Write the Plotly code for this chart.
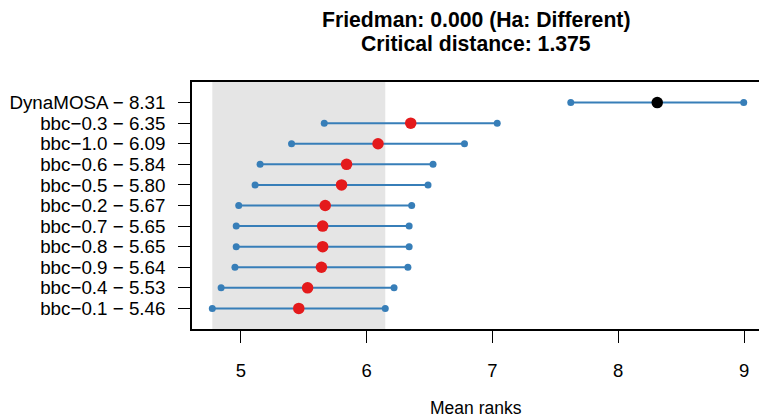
import plotly.graph_objects as go

names = ["DynaMOSA", "bbc\u22120.3", "bbc\u22121.0", "bbc\u22120.6", "bbc\u22120.5", "bbc\u22120.2",
         "bbc\u22120.7", "bbc\u22120.8", "bbc\u22120.9", "bbc\u22120.4", "bbc\u22120.1"]
mean_ranks = [8.31, 6.35, 6.09, 5.84, 5.80, 5.67, 5.65, 5.65, 5.64, 5.53, 5.46]
critical_distance = 1.375
friedman_p = 0.000
x_ticks = [5, 6, 7, 8, 9]

BLUE = "#377EB8"
RED = "#E41A1C"
FONT = "Liberation Sans, Arial, sans-serif"

n = len(names)
rows = [n - i for i in range(n)]  # top row is highest
half = critical_distance / 2

fig = go.Figure()

# shaded region: interval of the best (lowest mean rank) method
best_mean = min(mean_ranks)
fig.add_shape(type="rect", xref="x", yref="paper", x0=best_mean - half, x1=best_mean + half,
              y0=0, y1=1, fillcolor="#E5E5E5", line=dict(width=0), layer="below")

for name, m, r in zip(names, mean_ranks, rows):
    fig.add_trace(go.Scatter(x=[m - half, m + half], y=[r, r], mode="lines+markers",
                             line=dict(color=BLUE, width=2),
                             marker=dict(color=BLUE, size=7), hoverinfo="skip", showlegend=False))
top = max(mean_ranks)
for name, m, r in zip(names, mean_ranks, rows):
    col = "black" if m == top else RED
    fig.add_trace(go.Scatter(x=[m], y=[r], mode="markers",
                             marker=dict(color=col, size=11.5), showlegend=False))

ticktext = [f"{nm} \u2212 {m:.2f}" for nm, m in zip(names, mean_ranks)]

fig.update_layout(
    width=759, height=417,
    margin=dict(l=192, r=0, t=82, b=88),
    plot_bgcolor="white", paper_bgcolor="white",
    font=dict(family=FONT, color="black"),
    xaxis=dict(range=[4.611, 9.119], tickvals=x_ticks, ticks="outside", ticklen=12,
               tickwidth=1, tickcolor="black", showgrid=False, zeroline=False,
               showline=True, linecolor="black", linewidth=1.5, mirror=True,
               tickfont=dict(size=18.5), ticklabelstandoff=12, automargin=False),
    yaxis=dict(range=[0, n + 1], tickvals=rows, ticktext=ticktext, ticks="outside",
               ticklen=12, tickwidth=1, tickcolor="black", showgrid=False, zeroline=False,
               showline=True, linecolor="black", linewidth=1.5, automargin=False,
               tickfont=dict(size=18.8), ticklabelstandoff=9),
    annotations=[
        dict(text=f"<b>Friedman: {friedman_p:.3f} (Ha: Different)</b>", xref="paper", yref="paper",
             x=0.5, y=(329 - 19.5) / 247, showarrow=False, font=dict(size=21.2),
             xanchor="center", yanchor="middle", borderpad=0),
        dict(text=f"<b>Critical distance: {critical_distance:.3f}</b>", xref="paper", yref="paper",
             x=0.5, y=(329 - 43.5) / 247, showarrow=False, font=dict(size=21.2),
             xanchor="center", yanchor="middle", borderpad=0),
        dict(text="Mean ranks", xref="paper", yref="paper", x=0.5, y=(329 - 407.5) / 247,
             showarrow=False, font=dict(size=17.5), xanchor="center", yanchor="middle"),
    ],
)

fig.write_html("out.html", config={"displayModeBar": False},
               post_script="document.body.style.margin='0';document.body.style.overflow='hidden';")
